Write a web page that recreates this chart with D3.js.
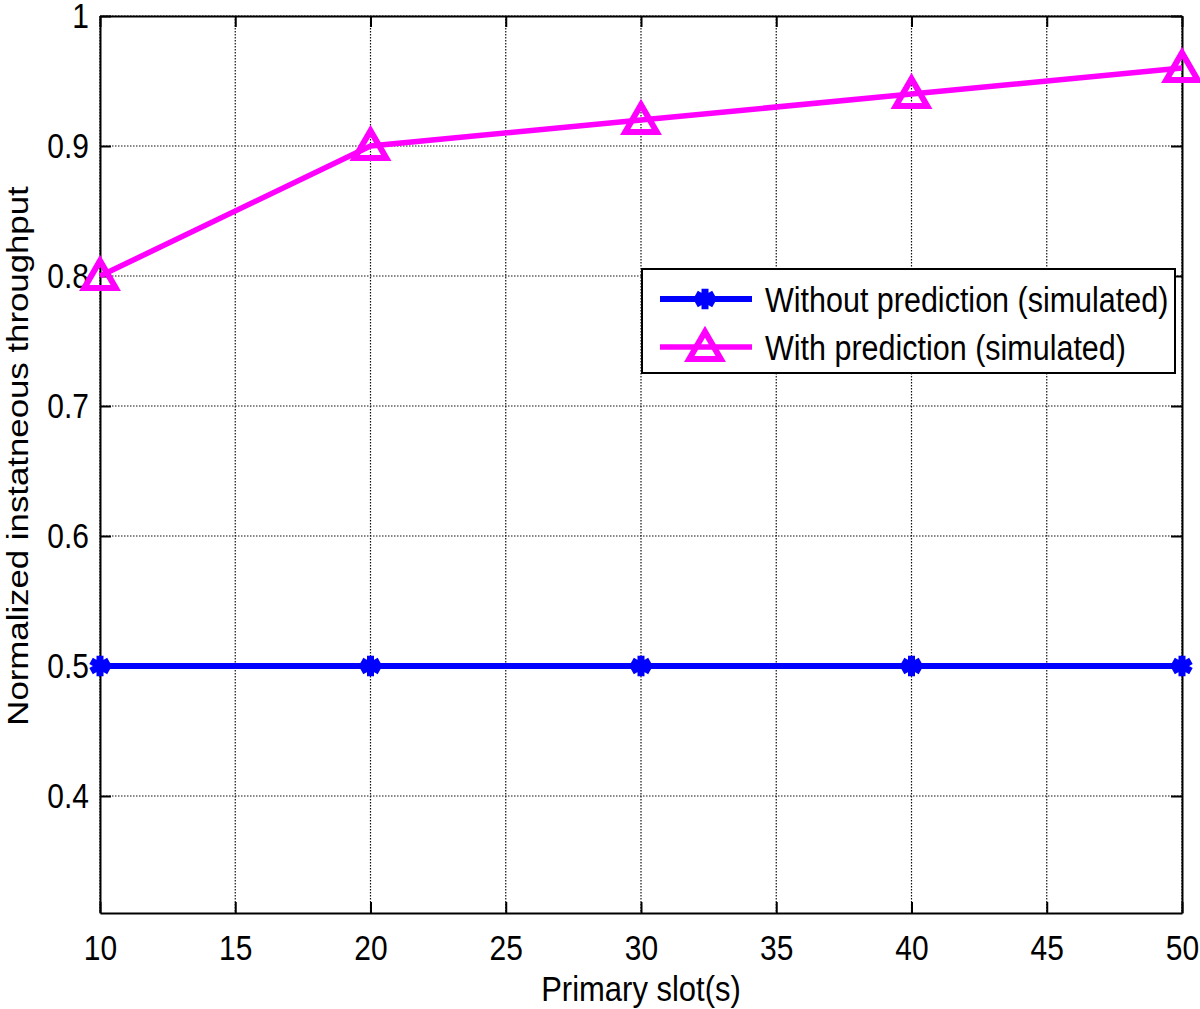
<!DOCTYPE html>
<html>
<head>
<meta charset="utf-8">
<script src="https://cdn.jsdelivr.net/npm/d3@7"></script>
<style>
body { margin: 0; background: #fff; }
svg { font-family: "Liberation Sans", Arial, sans-serif; }
.stretch { transform-box: fill-box; transform-origin: center; transform: scaleY(1.15); }
</style>
</head>
<body>
<svg width="1200" height="1009"></svg>
<script>
var slots = [10, 20, 30, 40, 50]
var withoutPred = [0.5, 0.5, 0.5, 0.5, 0.5]
var withPred = [0.8, 0.9, 0.92, 0.94, 0.96]
var xTicks = [10, 15, 20, 25, 30, 35, 40, 45, 50]
var yTicks = [0.4, 0.5, 0.6, 0.7, 0.8, 0.9, 1]
var seriesNames = ["Without prediction (simulated)", "With prediction (simulated)"]

var pLeft = 100, pRight = 1182, pTop = 16, pBottom = 913

var svg = d3.select("svg")

var x = d3.scaleLinear().domain([10, 50]).range([pLeft, pRight])
var y = d3.scaleLinear().domain([0.31, 1]).range([pBottom, pTop])

// dotted grid
svg.append("g").selectAll("line").data(xTicks).join("line")
	.attr("x1", d => x(d)).attr("x2", d => x(d))
	.attr("y1", pTop).attr("y2", pBottom)
	.attr("stroke", "#111").attr("stroke-width", 1.2).attr("stroke-dasharray", "1.5,1.5")
svg.append("g").selectAll("line").data(yTicks).join("line")
	.attr("x1", pLeft).attr("x2", pRight)
	.attr("y1", d => y(d)).attr("y2", d => y(d))
	.attr("stroke", "#111").attr("stroke-width", 1.2).attr("stroke-dasharray", "1.5,1.5")

// axes, ticks inward
var xAxis = svg.append("g").attr("transform", "translate(0," + pBottom + ")")
	.call(d3.axisBottom(x).tickValues(xTicks).tickSizeInner(-11).tickSizeOuter(0).tickPadding(24))
var yAxis = svg.append("g").attr("transform", "translate(" + pLeft + ",0)")
	.call(d3.axisLeft(y).tickValues(yTicks).tickSizeInner(-11).tickSizeOuter(0).tickPadding(11)
		.tickFormat(d => d === 1 ? "1" : d3.format(".1f")(d)))
svg.append("g").attr("transform", "translate(0," + pTop + ")")
	.call(d3.axisTop(x).tickValues(xTicks).tickSizeInner(-11).tickSizeOuter(0).tickFormat(""))
svg.append("g").attr("transform", "translate(" + pRight + ",0)")
	.call(d3.axisRight(y).tickValues(yTicks).tickSizeInner(-11).tickSizeOuter(0).tickFormat(""))

svg.selectAll(".domain").attr("stroke", "#000").attr("stroke-width", 2)
svg.selectAll(".tick line").attr("stroke", "#000").attr("stroke-width", 2)
svg.selectAll(".tick text").attr("font-size", 30).attr("fill", "#000")
	.attr("font-family", "Liberation Sans, Arial, sans-serif").attr("class", "stretch")

// lines
var line = d3.line().x((d, i) => x(slots[i])).y(d => y(d))
svg.append("path").datum(withoutPred).attr("d", line)
	.attr("fill", "none").attr("stroke", "#0000ff").attr("stroke-width", 6)
svg.append("path").datum(withPred).attr("d", line)
	.attr("fill", "none").attr("stroke", "#ff00ff").attr("stroke-width", 5.5)

var star = d3.symbol().type(d3.symbolAsterisk).size(300)
var tri = d3.symbol().type(d3.symbolTriangle).size(430)

svg.append("g").selectAll("path").data(withoutPred).join("path")
	.attr("d", star)
	.attr("transform", (d, i) => "translate(" + x(slots[i]) + "," + y(d) + ")")
	.attr("fill", "none").attr("stroke", "#0000ff").attr("stroke-width", 7)
svg.append("g").selectAll("path").data(withPred).join("path")
	.attr("d", tri)
	.attr("transform", (d, i) => "translate(" + x(slots[i]) + "," + (y(d) + 3) + ")")
	.attr("fill", "none").attr("stroke", "#ff00ff").attr("stroke-width", 6)

// legend
var lg = svg.append("g")
lg.append("rect").attr("x", 642).attr("y", 269).attr("width", 533).attr("height", 104)
	.attr("fill", "#fff").attr("stroke", "#000").attr("stroke-width", 2)
var colors = ["#0000ff", "#ff00ff"]
var syms = [star, tri]
seriesNames.forEach(function(name, i) {
	var ly = 299 + i * 48
	lg.append("line").attr("x1", 660).attr("x2", 752).attr("y1", ly).attr("y2", ly)
		.attr("stroke", colors[i]).attr("stroke-width", i === 0 ? 6 : 5.5)
	lg.append("path").attr("d", syms[i])
		.attr("transform", "translate(705," + (ly + (i === 0 ? 0 : 3)) + ")")
		.attr("fill", "none").attr("stroke", colors[i]).attr("stroke-width", i === 0 ? 7 : 6)
	lg.append("text").attr("x", 765).attr("y", ly + 11).attr("font-size", 30.5)
		.attr("class", "stretch").text(name)
})

// axis labels
svg.append("text").attr("x", (pLeft + pRight) / 2).attr("y", 999)
	.attr("text-anchor", "middle").attr("font-size", 31).attr("class", "stretch")
	.text("Primary slot(s)")
svg.append("text").attr("transform", "translate(28," + 456 + ") rotate(-90) scale(1.16,1)")
	.attr("text-anchor", "middle").attr("font-size", 30)
	.text("Normalized instatneous throughput")
</script>
</body>
</html>
